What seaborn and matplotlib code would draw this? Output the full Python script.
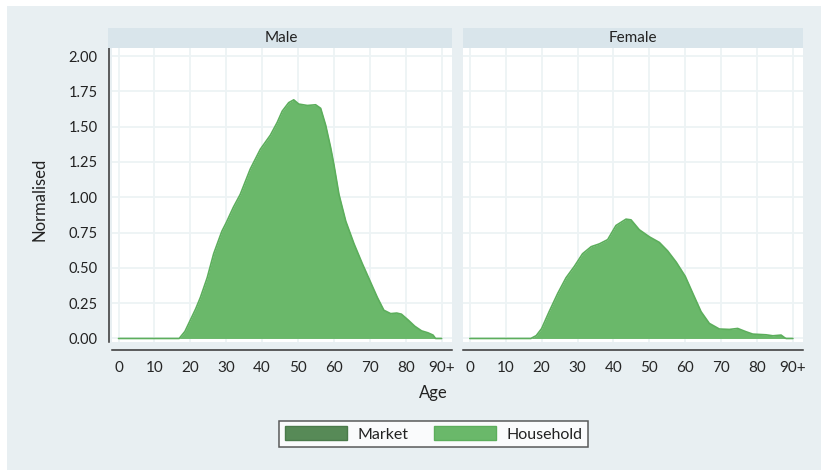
import matplotlib
matplotlib.use("Agg")
import matplotlib.pyplot as plt
import matplotlib.patches as mpatches
import seaborn as sns
import numpy as np
import pandas as pd

# Data (normalised age density)
male_age = [0, 10, 16.9, 18.5, 20, 21.5, 22.8, 24.7, 26.5, 28.8, 30, 32, 33.9, 36.7, 39.5, 42.3,
            44.2, 45.6, 47.4, 48.8, 50.2, 52.6, 54.9, 56.3, 57.7, 59.1, 60, 61.4, 63.3, 65.6,
            67.9, 70, 72.1, 73.9, 75.8, 77.5, 78.8, 80.7, 82.5, 84.4, 86.2, 87.6, 88.3, 90]
male_val = [0, 0, 0, 0.05, 0.13, 0.21, 0.29, 0.43, 0.60, 0.76, 0.82, 0.93, 1.02, 1.20, 1.34, 1.44,
            1.53, 1.61, 1.67, 1.69, 1.66, 1.65, 1.655, 1.63, 1.51, 1.35, 1.23, 1.02, 0.83, 0.67,
            0.53, 0.41, 0.29, 0.20, 0.176, 0.18, 0.172, 0.13, 0.087, 0.054, 0.04, 0.024, 0, 0]

female_age = [0, 10, 17.0, 18.5, 20, 22.1, 24.5, 26.8, 29.1, 31.4, 33.8, 36.1, 38.4, 40.7, 43.5,
              44.9, 47.2, 50, 52.8, 55.1, 57.5, 60, 62.1, 64.4, 66.7, 69.5, 72.3, 74.6, 76.9,
              78.8, 82.5, 84.4, 86.7, 87.7, 88.1, 90]
female_val = [0, 0, 0, 0.02, 0.07, 0.19, 0.32, 0.43, 0.51, 0.60, 0.65, 0.67, 0.70, 0.80, 0.845,
              0.84, 0.77, 0.72, 0.68, 0.62, 0.54, 0.44, 0.32, 0.19, 0.107, 0.067, 0.064, 0.071, 0.048,
              0.031, 0.026, 0.019, 0.024, 0.005, 0, 0]

x_ticks = [0, 10, 20, 30, 40, 50, 60, 70, 80, 90]
x_tick_labels = ["0", "10", "20", "30", "40", "50", "60", "70", "80", "90+"]
y_ticks = [0, 0.25, 0.5, 0.75, 1.0, 1.25, 1.5, 1.75, 2.0]
panels = ["Male", "Female"]
legend_labels = ["Market", "Household"]

df = pd.concat([
    pd.DataFrame({"sex": "Male", "age": male_age, "value": male_val}),
    pd.DataFrame({"sex": "Female", "age": female_age, "value": female_val}),
])

# Colours
bg = "#e8eff2"
strip_c = "#d9e5eb"
grid_c = "#edf3f5"
household_c = "#6ab86a"
market_c = "#578a57"

sns.set_theme(style="white")
plt.rcParams["font.family"] = ["Lato", "DejaVu Sans"]

W, H = 821, 470
fig = plt.figure(figsize=(W / 100, H / 100), dpi=100, facecolor=bg)

# White margin strips at top and left
fig.patches.append(mpatches.Rectangle((0, 1 - 6 / H), 1, 6 / H, transform=fig.transFigure,
                                      facecolor="white", edgecolor="none"))
fig.patches.append(mpatches.Rectangle((0, 0), 7 / W, 1, transform=fig.transFigure,
                                      facecolor="white", edgecolor="none"))

ax_w = 340 / W
ax_h = 294 / H
ax_b = 1 - 342 / H
lefts = [111.7 / W, 463 / W]

for i, sex in enumerate(panels):
    ax = fig.add_axes([lefts[i], ax_b, ax_w, ax_h])
    ax.set_facecolor("white")
    sub = df[df["sex"] == sex]

    ax.fill_between(sub["age"], 0, sub["value"], color=household_c, linewidth=0, zorder=2)
    sns.lineplot(data=sub, x="age", y="value", ax=ax, color="#5cae5c", linewidth=1.2,
                 zorder=3, estimator=None, sort=False)

    ax.set_xlim(-1.9, 92.8)
    ax.set_ylim(-0.025, 2.057)
    ax.set_xticks(x_ticks)
    ax.set_xticklabels(x_tick_labels, fontsize=10.5, color="#222222")
    ax.set_yticks(y_ticks)
    ax.grid(True, color=grid_c, linewidth=1.3, zorder=1)
    ax.set_axisbelow(True)
    ax.set_xlabel("")
    ax.set_ylabel("")

    for s in ["top", "right"]:
        ax.spines[s].set_visible(False)
    ax.spines["bottom"].set_position(("outward", 6))
    ax.spines["bottom"].set_color("#333333")
    ax.spines["bottom"].set_linewidth(1.1)
    ax.tick_params(axis="x", direction="out", length=5, width=1, color="#333333", pad=3)

    if i == 0:
        ax.spines["left"].set_position(("outward", 2))
        ax.spines["left"].set_color("#333333")
        ax.spines["left"].set_linewidth(1.1)
        ax.set_yticklabels([f"{v:.2f}" for v in y_ticks], fontsize=10.5, color="#222222")
        ax.tick_params(axis="y", direction="out", length=5, width=1, color="#333333", pad=3)
    else:
        ax.spines["left"].set_visible(False)
        ax.tick_params(axis="y", length=0, labelleft=False)

    # facet strip
    extra = (3.5 / 340) if i == 0 else 0
    strip = mpatches.Rectangle((-extra, 1), 1 + extra, 20 / 294, transform=ax.transAxes,
                               facecolor=strip_c, edgecolor="none", clip_on=False, zorder=5)
    ax.add_patch(strip)
    ax.text(0.5, 1 + 10 / 294, sex, transform=ax.transAxes, ha="center", va="center",
            fontsize=11, color="#222222", zorder=6)

fig.text(39 / W, 1 - 199 / H, "Normalised", rotation=90, ha="center", va="center",
         fontsize=12, color="#222222")
fig.text(433 / W, 1 - 393 / H, "Age", ha="center", va="center", fontsize=12, color="#222222")

handles = [mpatches.Patch(facecolor=market_c, edgecolor="#4a7a4a", label=legend_labels[0]),
           mpatches.Patch(facecolor=household_c, edgecolor="#5cae5c", label=legend_labels[1])]
leg = fig.legend(handles=handles, loc="center", bbox_to_anchor=(433.5 / W, 1 - 434 / H),
                 ncol=2, frameon=True, fancybox=False, fontsize=11.5, handlelength=3.9,
                 handleheight=1.0, handletextpad=0.65, columnspacing=1.6, borderpad=0.35,
                 labelcolor="#222222")
leg.get_frame().set_edgecolor("#333333")
leg.get_frame().set_linewidth(1.1)
leg.get_frame().set_facecolor("white")

fig.savefig("out.png", dpi=100, facecolor=bg)
